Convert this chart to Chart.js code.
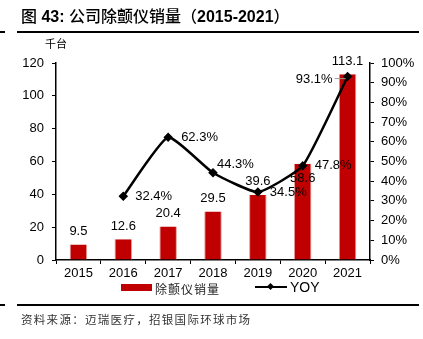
<!DOCTYPE html>
<html>
<head>
<meta charset="utf-8">
<script src="https://cdn.jsdelivr.net/npm/chart.js@4"></script>
<style>
  html, body { margin: 0; padding: 0; background: #fff; }
  #wrap { position: relative; width: 423px; height: 339px; overflow: hidden; }
  #c { position: absolute; left: 0; top: 0; }
  .txt { position: absolute; white-space: nowrap; color: #000; }
  .rule { position: absolute; height: 2px; background: #000; }
  .cjk { font-weight: 500; }
</style>
</head>
<body>
<div id="wrap">
  <canvas id="c" width="423" height="339"></canvas>
  <div class="txt" style="left:21px; top:3px; font: bold 16px 'Liberation Sans', 'Noto Sans CJK SC', sans-serif;"><span class="cjk">图</span> 43: <span class="cjk">公司除颤仪销量（</span>2015-2021<span class="cjk">）</span></div>
  <div class="rule" style="left:17px; top:31px; width:402px;"></div>
  <div class="rule" style="left:0; top:31px; width:5px;"></div>
  <div class="txt" style="left:45px; top:35px; font: 11px 'Noto Sans CJK SC', sans-serif;">千台</div>
  <div style="position:absolute; left:121px; top:284px; width:31px; height:7px; background:#C00000;"></div>
  <div class="txt" style="left:155px; top:280px; font: 12px 'Noto Sans CJK SC', sans-serif; letter-spacing:1px; color:#222;">除颤仪销量</div>
  <div style="position:absolute; left:255px; top:286px; width:32px; height:2px; background:#000;"></div>
  <div style="position:absolute; left:268px; top:284px; width:5px; height:5px; background:#000; transform:rotate(45deg);"></div>
  <div class="txt" style="left:290px; top:279px; font: 14px 'Liberation Sans', sans-serif;">YOY</div>
  <div class="rule" style="left:17px; top:304px; width:402px;"></div>
  <div class="rule" style="left:0; top:304px; width:5px;"></div>
  <div class="txt" style="left:21px; top:311px; font: 11.5px 'Noto Sans CJK SC', sans-serif; letter-spacing:1.3px; color:#333;">资料来源：迈瑞医疗，招银国际环球市场</div>
</div>
<script>
const years = ['2015', '2016', '2017', '2018', '2019', '2020', '2021'];
const sales = [9.5, 12.6, 20.4, 29.5, 39.6, 58.6, 113.1];
const yoy = [null, 32.4, 62.3, 44.3, 34.5, 47.8, 93.1];

// label nudges (dx, dy) and alignment
const barLabelDy = [-13, -13, -13, -13, -14, 15, -13];
const lineLabelPos = [null, [12, 0, 'left'], [13, 0, 'left'], [4, -8, 'left'], [12, 0, 'left'], [12, 0, 'left'], [-15, 3, 'right']];

const valueLabels = {
  id: 'valueLabels',
  afterDatasetsDraw(chart) {
    const ctx = chart.ctx;
    ctx.save();
    ctx.font = '13px "Liberation Sans", Arial, sans-serif';
    ctx.fillStyle = '#000';
    ctx.textBaseline = 'middle';

    chart.getDatasetMeta(0).data.forEach(function (bar, i) {
      ctx.textAlign = 'center';
      ctx.fillText(sales[i].toFixed(1), bar.x, bar.y + barLabelDy[i]);
    });

    chart.getDatasetMeta(1).data.forEach(function (pt, i) {
      if (yoy[i] == null) return;
      const p = lineLabelPos[i];
      ctx.textAlign = p[2];
      ctx.fillText(yoy[i].toFixed(1) + '%', pt.x + p[0], pt.y + p[1]);
      if (i === years.length - 1) {
        ctx.strokeStyle = '#999';
        ctx.lineWidth = 1;
        ctx.beginPath();
        ctx.moveTo(pt.x + p[0] + 2, pt.y + 2);
        ctx.lineTo(pt.x - 2, pt.y + 2);
        ctx.stroke();
      }
    });
    ctx.restore();
  }
};

const tickFont = { family: '"Liberation Sans", Arial, sans-serif', size: 13 };

new Chart(document.getElementById('c').getContext('2d'), {
  type: 'bar',
  data: {
    labels: years,
    datasets: [
      {
        label: '除颤仪销量',
        data: sales,
        yAxisID: 'y',
        backgroundColor: '#C00000',
        borderColor: 'rgba(230, 150, 150, 1)',
        borderWidth: { left: 1, right: 1, top: 0, bottom: 0 },
        categoryPercentage: 1,
        barPercentage: 0.39,
        order: 2
      },
      {
        label: 'YOY',
        type: 'line',
        data: yoy,
        yAxisID: 'y1',
        borderColor: '#000',
        backgroundColor: '#000',
        borderWidth: 2.5,
        tension: 0.15,
        pointStyle: 'rectRot',
        pointRadius: 3,
        pointHoverRadius: 3,
        spanGaps: false,
        order: 1
      }
    ]
  },
  options: {
    responsive: false,
    animation: false,
    layout: { padding: { top: 63, bottom: 59, left: 0, right: 0 } },
    plugins: { legend: { display: false }, tooltip: { enabled: false } },
    scales: {
      x: {
        grid: { drawOnChartArea: false, drawTicks: true, tickLength: 4, color: '#000', offset: true },
        border: { color: '#000', width: 1.5 },
        ticks: { color: '#000', font: tickFont, padding: 2 },
        afterFit: function (s) { s.height = 20; }
      },
      y: {
        position: 'left',
        min: 0,
        max: 120,
        ticks: { stepSize: 20, color: '#000', font: tickFont, padding: 8 },
        grid: { drawOnChartArea: false, tickLength: 4, color: '#000' },
        border: { color: '#000', width: 1.5 },
        afterFit: function (s) { s.width = 56; }
      },
      y1: {
        position: 'right',
        min: 0,
        max: 100,
        ticks: { stepSize: 10, color: '#000', font: tickFont, padding: 7, callback: function (v) { return v + '%'; } },
        grid: { drawOnChartArea: false, tickLength: 4, color: '#000' },
        border: { color: '#000', width: 1.5 },
        afterFit: function (s) { s.width = 53; }
      }
    }
  },
  plugins: [valueLabels]
});
</script>
</body>
</html>
